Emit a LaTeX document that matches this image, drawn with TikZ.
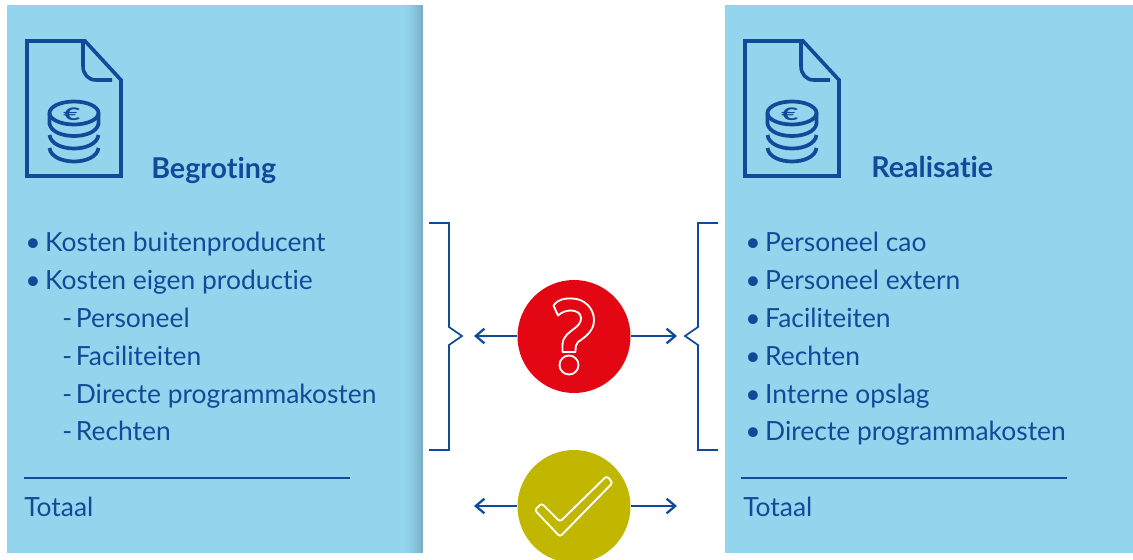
\documentclass[tikz,border=0pt]{standalone}
\usepackage{fontspec}
\setmainfont{Lato}[Ligatures=CommonOff]
\definecolor{panelblue}{HTML}{94D5EE}
\definecolor{panelshade}{HTML}{78AEC6}
\definecolor{inkblue}{HTML}{104B9A}
\definecolor{alertred}{HTML}{E30613}
\definecolor{okolive}{HTML}{C1B700}
\usetikzlibrary{arrows.meta}
\tikzset{
  panel/.style={fill=panelblue,draw=none},
  icon/.style={draw=inkblue,line width=2.7pt,line join=miter},
  coin/.style={draw=inkblue,line width=2.8pt,fill=none},
  txt/.style={inner sep=0pt,anchor=base west,text=inkblue,font=\fontsize{19.8}{24}\selectfont},
  head/.style={inner sep=0pt,anchor=base west,text=inkblue,font=\fontsize{21.5}{24}\selectfont\bfseries},
  rulel/.style={draw=inkblue,line width=1.7pt},
  bracket/.style={draw=inkblue,line width=1.3pt,line join=miter},
  conn/.style={draw=inkblue,line width=2pt,-{Straight Barb[length=6.5pt,width=11pt,line width=1.7pt]}},
  badge/.style={circle,minimum size=84.75pt,inner sep=0pt,draw=none},
  glyph/.style={draw=white,line width=1.4pt,line join=round}
}
\newcommand{\bul}{•\kern-1.6pt\ }
\newcommand{\dsh}{-\kern-2.2pt\ }
\newcommand{\docicon}[1]{%
\begin{scope}[shift={(#1,0)}]
  \draw[icon] (27,41) -- (85,41) -- (121,80) -- (121,176) -- (27,176) -- cycle;
  \draw[icon] (83,41) -- (83,66) .. controls (83,74) and (88,80) .. (96,80) -- (112,80);
  \draw[coin] (74,113) ellipse (24.5 and 11.5);
  \draw[coin] (49.5,113) -- (49.5,124) .. controls (53,140) and (95,140) .. (98.5,124) -- (98.5,113);
  \draw[coin] (49.5,135) .. controls (52,153) and (96,153) .. (98.5,135);
  \draw[coin] (49.5,148) .. controls (52,166) and (96,166) .. (98.5,148);
  \node[inner sep=0pt,text=inkblue,font=\fontsize{13}{13}\selectfont\bfseries] at (72,114) {\scalebox{1.7}[1]{€}};
\end{scope}}
\begin{document}
\begin{tikzpicture}[x=0.75pt,y=-0.75pt]
\useasboundingbox (0,0) rectangle (1133,560);
\clip (0,0) rectangle (1133,560);
% panels
\fill[panel] (7,5) rectangle (423,553);
\foreach \i in {1,...,23}{
  \pgfmathsetmacro{\p}{100*(\i/23)^2}
  \fill[panelshade!\p!panelblue] ({399+\i},5) rectangle (423,553);
}
\fill[panel] (725,5) rectangle (1133,553);
% icons
\docicon{0}
\docicon{718}
% headings
\node[head] (hl) at (151,178) {Begroting};
\node[head] (hr) at (871,177) {Realisatie};
% left list
\node[txt] (l1) at (25,251) {\bul Kosten buitenproducent};
\node[txt] (l2) at (25,289) {\bul Kosten eigen productie};
\node[txt] (l3) at (62,327) {\dsh Personeel};
\node[txt] (l4) at (62,365) {\dsh Faciliteiten};
\node[txt] (l5) at (62,403) {\dsh Directe programmakosten};
\node[txt] (l6) at (62,440) {\dsh Rechten};
\draw[rulel] (24,478) -- (350,478);
\node[txt] (lt) at (24,516) {Totaal};
% right list
\node[txt] (r1) at (745,251) {\bul Personeel cao};
\node[txt] (r2) at (745,289) {\bul Personeel extern};
\node[txt] (r3) at (745,327) {\bul Faciliteiten};
\node[txt] (r4) at (745,365) {\bul Rechten};
\node[txt] (r5) at (745,403) {\bul Interne opslag};
\node[txt] (r6) at (745,440) {\bul Directe programmakosten};
\draw[rulel] (741,478) -- (1067,478);
\node[txt] (rt) at (743,516) {Totaal};
% brackets
\draw[bracket] (429,223) -- (449,223) -- (449,327) -- (462,336) -- (449,345) -- (449,450) -- (429,450);
\draw[bracket] (718,223) -- (698,223) -- (698,327) -- (685,336) -- (698,345) -- (698,450) -- (718,450);
% badges
\node[badge,fill=alertred] (q) at (574,336.5) {};
\node[badge,fill=okolive] (c) at (574,506.5) {};
\coordinate (qa) at (474,336);
\coordinate (qb) at (677,336);
\coordinate (ca) at (474,506);
\coordinate (cb) at (677,506);
\draw[conn] (q.west |- qa) -- (qa);
\draw[conn] (q.east |- qb) -- (qb);
\draw[conn] (c.west |- ca) -- (ca);
\draw[conn] (c.east |- cb) -- (cb);
% question mark
\draw[glyph] (553.5,305.5) .. controls (559,298) and (566,298.5) .. (572,298.5)
  .. controls (584,298.5) and (594,308) .. (594,320)
  .. controls (594,330) and (587,336) .. (578,342)
  .. controls (576,344) and (575.5,346) .. (575.5,352)
  -- (562.5,352) -- (562.5,345)
  .. controls (562.5,336) and (570,332) .. (575,328)
  .. controls (579,325) and (581,322) .. (581,318)
  .. controls (581,313) and (576,310.5) .. (571,310.5)
  .. controls (566,310.5) and (562,312) .. (558,315.5) -- cycle;
\draw[glyph] (569,365) circle (9.5);
% check mark
\draw[glyph,rounded corners=2pt] (534.7,510) -- (541.7,503.3) -- (560,521.7) -- (606.7,476) -- (612.7,482.7) -- (560,536.7) -- cycle;
\end{tikzpicture}
\end{document}
